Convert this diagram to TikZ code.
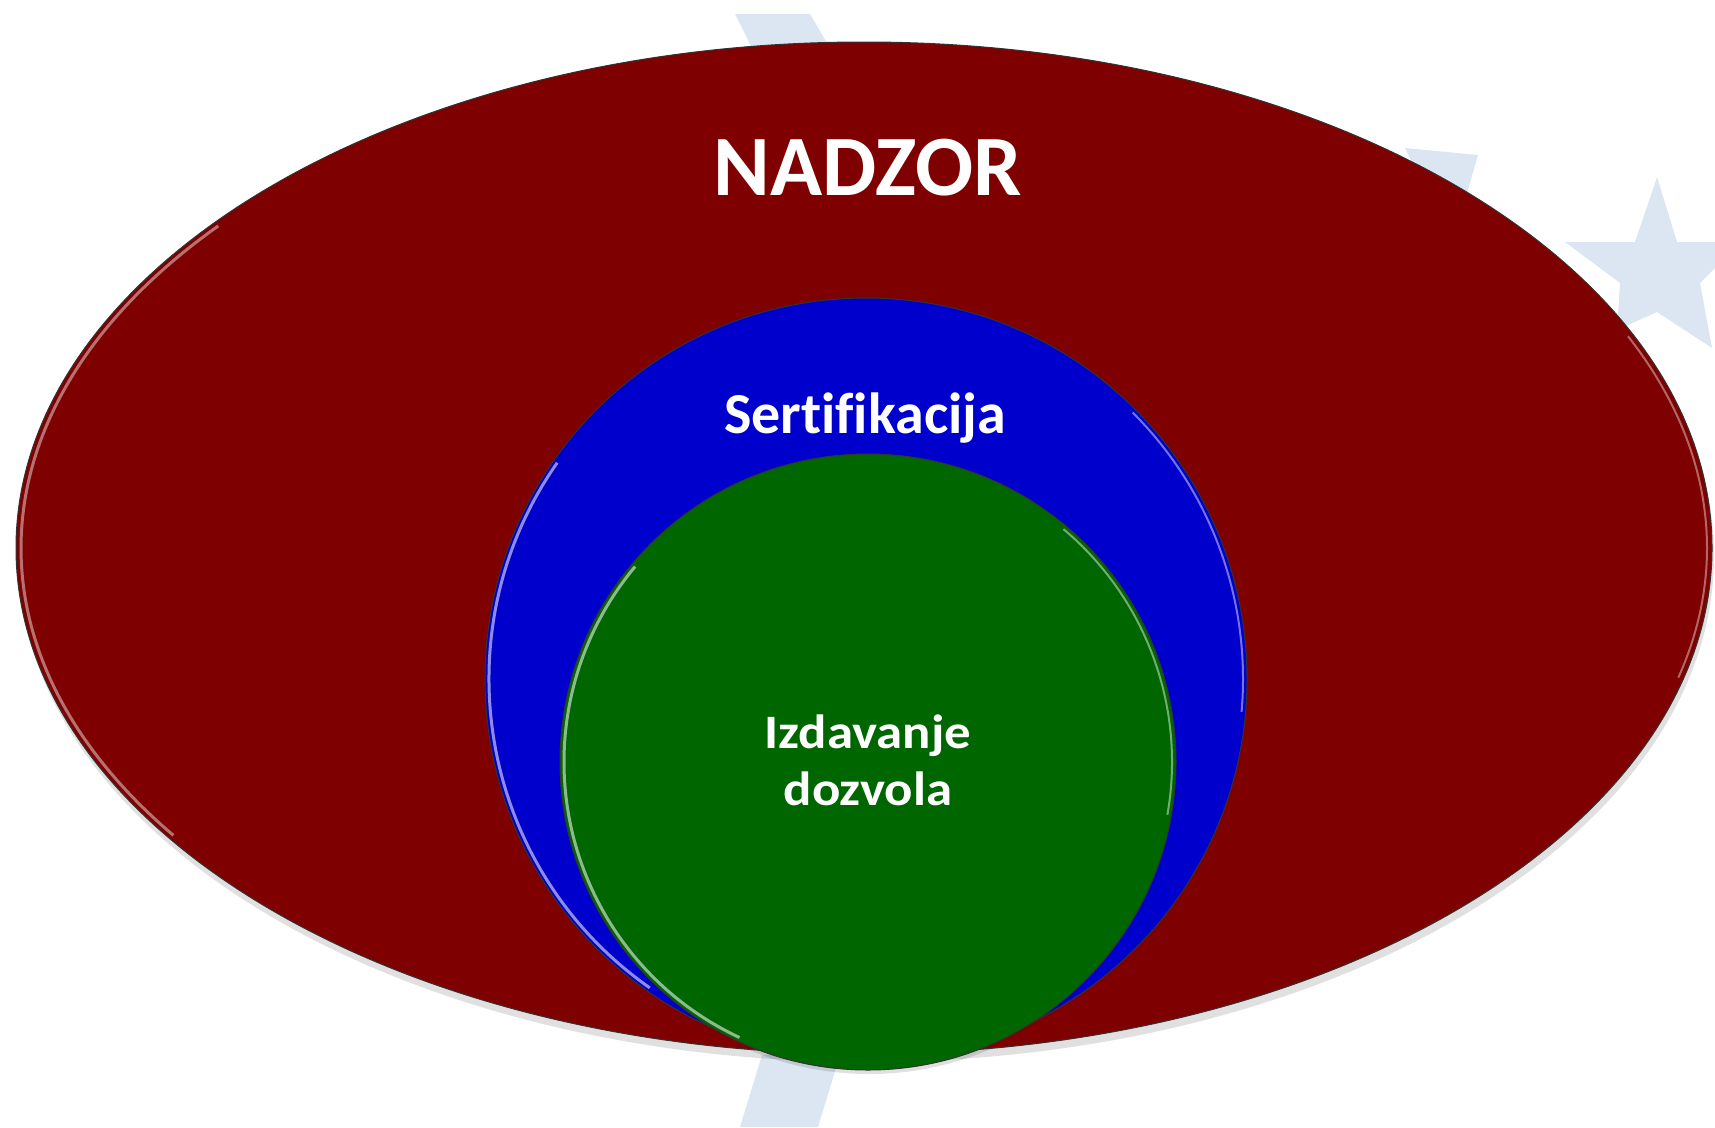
\documentclass[tikz,border=0pt]{standalone}
\usepackage{fontspec}
\setmainfont[Ligatures=NoCommon]{Carlito}
\definecolor{bgblue}{HTML}{DCE6F2}
\definecolor{nred}{HTML}{7F0000}
\definecolor{nblue}{HTML}{0000CC}
\definecolor{ngreen}{HTML}{006600}
\begin{document}
\begin{tikzpicture}[x=1pt,y=-1pt,
  lbl/.style={text=white,font=\bfseries,align=center,inner sep=0pt},
  rim/.style={line width=1pt,draw=black!80}]
\useasboundingbox (0,0) rectangle (1715,1127);
% background watermark shapes
\fill[bgblue] (735,14) -- (810,14) -- (830,48) -- (752,48) -- cycle;
\fill[bgblue] (762,1055) -- (840,1055) -- (818,1127) -- (740,1127) -- cycle;
\fill[bgblue] (1405,148) -- (1478,155) -- (1465,200) -- (1430,200) -- cycle;
\fill[bgblue] (1657,177) -- (1677,242) -- (1715,242) -- (1715,268) -- (1700,283)
  -- (1712,348) -- (1657,312) -- (1617,330) -- (1620,283) -- (1565,242) -- (1635,242) -- cycle;
% shadows
\fill[black,opacity=0.12] (866,556) ellipse (848 and 506);
\fill[black,opacity=0.12] (869,766) circle (308);
% ellipse
\filldraw[fill=nred,rim] (864,548) ellipse (848 and 506);
\draw[white!55!nred,line width=3pt,opacity=0.8] (864,548) ++(145:843 and 501) arc (145:220:843 and 501);
\draw[white!40!nred,line width=2pt] (864,548) ++(-25:843 and 501) arc (-25:15:843 and 501);
\node[lbl,font=\bfseries\fontsize{86}{90}\selectfont,anchor=base] (nadzor) at (868,195) {NADZOR};
% blue circle
\filldraw[fill=nblue,rim] (866,679) circle (381);
\draw[white!55!nblue,line width=3pt] (866,679) ++(125:377) arc (125:215:377);
\draw[white!45!nblue,line width=2pt] (866,679) ++(-45:377) arc (-45:5:377);
\node[lbl,font=\bfseries\fontsize{58}{60}\selectfont,anchor=base] (sert) at (865,433) {Sertifikacija};
% green circle
\filldraw[fill=ngreen,rim] (868,762) circle (308);
\draw[white!55!ngreen,line width=3pt] (868,762) ++(115:304) arc (115:220:304);
\draw[white!45!ngreen,line width=2pt] (868,762) ++(-50:304) arc (-50:10:304);
\node[lbl,font=\bfseries\fontsize{48}{57}\selectfont,xscale=1.1] (izd) at (868,760) {Izdavanje\\dozvola};
\end{tikzpicture}
\end{document}
